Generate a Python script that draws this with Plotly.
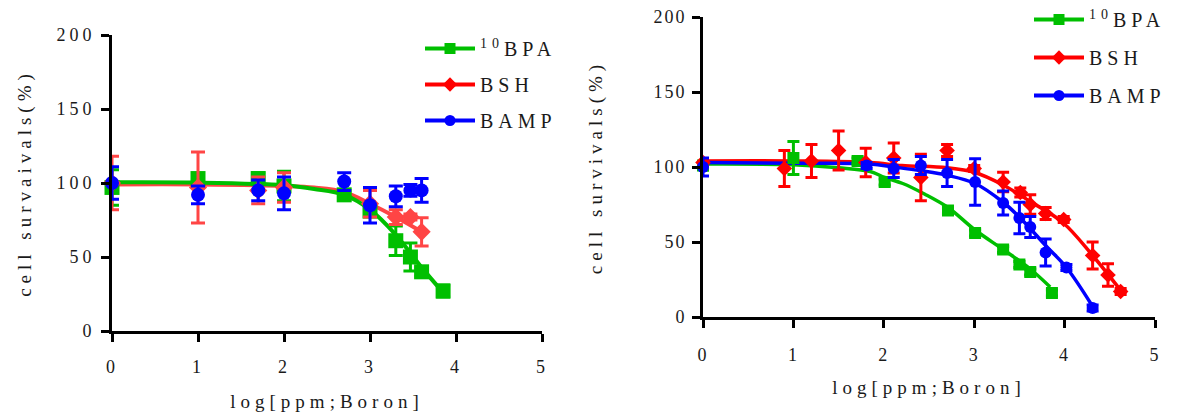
import plotly.graph_objects as go

# ---------------- Left panel (A) ----------------
A_bpa_x = [0, 1, 1.7, 2, 2.7, 3.0, 3.3, 3.47, 3.6, 3.85]
A_bpa_y = [97, 103, 103, 98, 92, 81, 61, 50, 40, 27]
A_bpa_err = [12, 3, 4, 10, 3, 3, 10, 9.5, 3, 4]

A_bsh_x = [0, 1, 1.7, 2, 3.0, 3.3, 3.47, 3.6]
A_bsh_y = [100, 97, 95, 97, 86, 77, 77, 67]
A_bsh_err = [18, 24, 9, 10, 9, 5, 2, 9.5]

A_bamp_x = [0, 1, 1.7, 2, 2.7, 3.0, 3.3, 3.47, 3.6]
A_bamp_y = [100, 92, 95, 93, 101, 85, 91, 95, 95]
A_bamp_err = [11, 6, 7, 11, 6, 12, 7, 4, 8]

A_bpa_fit_x = [0, 1, 2, 2.35, 2.7, 3.0, 3.3, 3.6, 3.85]
A_bpa_fit_y = [100.5, 100.3, 98.5, 96, 92, 82, 65, 43, 26]
A_bsh_fit_x = [0, 1, 2, 2.35, 2.7, 3.0, 3.3, 3.6]
A_bsh_fit_y = [99, 99, 98, 97, 94, 86, 77, 67]

# ---------------- Right panel (B) ----------------
B_bpa_x = [0, 1.0, 1.71, 2.01, 2.71, 3.01, 3.32, 3.5, 3.62, 3.86]
B_bpa_y = [101, 106, 104, 90, 71, 56, 45, 35, 30, 16]
B_bpa_err = [3, 11, 2, 2, 2, 2, 2, 2, 2, 2]

B_bsh_x = [0, 0.9, 1.2, 1.5, 1.8, 2.11, 2.41, 2.70, 3.0, 3.32, 3.51, 3.62, 3.79, 3.99, 4.31, 4.48, 4.62]
B_bsh_y = [103, 99, 104, 111, 103, 106, 93, 111, 99, 90, 83, 75, 69, 65, 41, 28, 17]
B_bsh_err = [2, 12, 11, 13, 9.5, 10, 15.5, 4, 2, 6.5, 3, 6.5, 4, 2, 9, 7.5, 2]

B_bamp_x = [0, 1.81, 2.11, 2.41, 2.70, 3.01, 3.32, 3.50, 3.62, 3.79, 4.02, 4.31]
B_bamp_y = [100, 101, 99, 101, 96, 90, 76, 66, 60, 43, 33, 6]
B_bamp_err = [6, 2, 6, 6, 9, 15.5, 8, 10.5, 7, 9, 2, 2]

B_bpa_fit_x = [0, 1, 1.5, 1.85, 2.01, 2.21, 2.45, 2.71, 3.01, 3.32, 3.62, 3.84]
B_bpa_fit_y = [102, 101.5, 99.5, 97, 93, 89, 82, 73, 58, 45, 32, 20]
B_bsh_fit_x = [0, 1, 1.85, 2.2, 2.7, 3.0, 3.32, 3.62, 3.98, 4.31, 4.63]
B_bsh_fit_y = [104, 104, 103, 101, 99.5, 96.5, 88, 77, 63, 41, 17]
B_bamp_fit_x = [0, 1, 1.85, 2.11, 2.41, 2.7, 3.01, 3.32, 3.51, 3.8, 4.02, 4.3]
B_bamp_fit_y = [103, 102.5, 102, 100, 97.5, 94.5, 89, 76.5, 66, 47, 33, 8]

x_ticks = [0, 1, 2, 3, 4, 5]
y_ticks = [0, 50, 100, 150, 200]
x_title = "log[ppm;Boron]"
y_title_A = "cell survaivals(%)"
y_title_B = "cell survivals(%)"
names = ["<sup>10</sup>BPA", "BSH", "BAMP"]

GREEN = "#00BF00"
RED_A = "#FF4545"
RED_B = "#FF0000"
BLUE = "#0000FF"
FONT = "Liberation Serif"
TXT = "#1a1a1a"


def ls(text, sp):
    return f'<span style="letter-spacing:{sp}px">{text}</span>'


W, H = 1178, 416
fig = go.Figure()


def pts(x, y, e, color, symbol, size, xa, ya, cap):
    fig.add_trace(go.Scatter(
        x=x, y=y, mode="markers", xaxis=xa, yaxis=ya, showlegend=False,
        cliponaxis=False,
        marker=dict(color=color, symbol=symbol, size=size, line=dict(width=0)),
        error_y=dict(type="data", array=e, color=color, thickness=3, width=cap)))


def fit(x, y, color, xa, ya, w):
    fig.add_trace(go.Scatter(
        x=x, y=y, mode="lines", xaxis=xa, yaxis=ya, showlegend=False,
        line=dict(color=color, width=w, shape="spline", smoothing=1.0)))


def leg(name, color, symbol, legend):
    fig.add_trace(go.Scatter(
        x=[None], y=[None], mode="lines+markers", name=ls(name, 5),
        legend=legend, legendgroup=legend + name,
        marker=dict(color=color, symbol=symbol, size=11),
        line=dict(color=color, width=4)))


# left panel
fit(A_bsh_fit_x, A_bsh_fit_y, RED_A, "x", "y", 4)
fit(A_bpa_fit_x, A_bpa_fit_y, GREEN, "x", "y", 4)
pts(A_bpa_x, A_bpa_y, A_bpa_err, GREEN, "square", 15, "x", "y", 7)
pts(A_bsh_x, A_bsh_y, A_bsh_err, RED_A, "diamond", 14, "x", "y", 7)
pts(A_bamp_x, A_bamp_y, A_bamp_err, BLUE, "circle", 14, "x", "y", 7)
leg(names[0], GREEN, "square", "legend")
leg(names[1], RED_B, "diamond", "legend")
leg(names[2], BLUE, "circle", "legend")

# right panel
fit(B_bpa_fit_x, B_bpa_fit_y, GREEN, "x2", "y2", 3.5)
fit(B_bsh_fit_x, B_bsh_fit_y, RED_B, "x2", "y2", 3.5)
fit(B_bamp_fit_x, B_bamp_fit_y, BLUE, "x2", "y2", 3.5)
pts(B_bpa_x, B_bpa_y, B_bpa_err, GREEN, "square", 12, "x2", "y2", 6)
pts(B_bsh_x, B_bsh_y, B_bsh_err, RED_B, "diamond", 12, "x2", "y2", 6)
pts(B_bamp_x, B_bamp_y, B_bamp_err, BLUE, "circle", 12, "x2", "y2", 6)
leg(names[0], GREEN, "square", "legend2")
leg(names[1], RED_B, "diamond", "legend2")
leg(names[2], BLUE, "circle", "legend2")


def xax(dom, lab_standoff, standoff, sp):
    return dict(
        domain=dom, range=[0, 5], showline=True, linewidth=3, linecolor="black",
        ticks="outside", ticklen=8, tickwidth=3, tickcolor="black",
        showgrid=False, zeroline=False, tickvals=x_ticks,
        ticktext=[ls(str(t), sp) for t in x_ticks],
        tickfont=dict(family=FONT, size=18, color=TXT),
        ticklabelstandoff=lab_standoff,
        title=dict(text=ls(x_title, 5), font=dict(family=FONT, size=19, color=TXT),
                   standoff=standoff),
        automargin=False, fixedrange=True)


def yax(dom, anchor, title, standoff, sp):
    return dict(
        domain=dom, anchor=anchor, range=[0, 200], showline=True, linewidth=3,
        linecolor="black", ticks="outside", ticklen=8, tickwidth=3,
        tickcolor="black", showgrid=False, zeroline=False, tickvals=y_ticks,
        ticktext=[ls(str(t), sp) for t in y_ticks],
        tickfont=dict(family=FONT, size=18, color=TXT), ticklabelstandoff=2,
        title=dict(text=ls(title, 5), font=dict(family=FONT, size=19, color=TXT),
                   standoff=standoff),
        automargin=False, fixedrange=True)


fig.update_layout(
    width=W, height=H, margin=dict(l=0, r=0, t=0, b=0),
    paper_bgcolor="white", plot_bgcolor="white",
    xaxis=xax([112 / W, 542 / W], 9, 20, 3) | dict(anchor="y"),
    yaxis=yax([1 - 331 / H, 1 - 35 / H], "x", y_title_A, 20, 4),
    xaxis2=xax([703 / W, 1155 / W], 11, 18, 2) | dict(anchor="y2"),
    yaxis2=yax([1 - 317 / H, 1 - 17 / H], "x2", y_title_B, 46, 2),
    legend=dict(x=420 / W, y=1 - 29 / H, xanchor="left", yanchor="top",
                font=dict(family=FONT, size=20, color=TXT), bgcolor="rgba(0,0,0,0)",
                tracegroupgap=7, itemwidth=50),
    legend2=dict(x=1029 / W, y=1.0, xanchor="left", yanchor="top",
                 font=dict(family=FONT, size=20, color=TXT), bgcolor="rgba(0,0,0,0)",
                 tracegroupgap=9, itemwidth=50),
)

fig.write_html("out.html", config={"displayModeBar": False},
               post_script="document.body.style.margin='0';document.body.style.overflow='hidden';")
